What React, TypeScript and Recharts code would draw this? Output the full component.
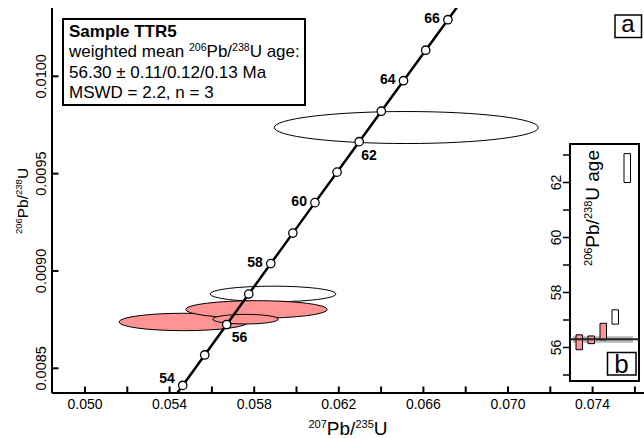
import React from 'react';
import {
  ComposedChart,
  Line,
  Scatter,
  XAxis,
  YAxis,
  ReferenceArea,
  ReferenceLine,
  Bar,
  Cell,
} from 'recharts';

const FONT = '"Liberation Sans", Arial, Helvetica, sans-serif';
const PINK = '#FF9494';

// ---- Concordia curve (age in Ma, 207Pb/235U, 206Pb/238U) ----
const concordiaAges = [53, 54, 55, 56, 57, 58, 59, 60, 61, 62, 63, 64, 65, 66, 67];
const concordiaX = [
  0.0535834, 0.0546215, 0.0556606, 0.0567007, 0.057742, 0.0587842, 0.0598275, 0.0608718,
  0.0619171, 0.0629634, 0.0640108, 0.0650592, 0.0661086, 0.0671591, 0.0682106,
];
const concordiaY = [
  0.0082555, 0.0084119, 0.0085684, 0.0087248, 0.0088813, 0.0090379, 0.0091944, 0.009351,
  0.0095076, 0.0096642, 0.0098208, 0.0099774, 0.0101341, 0.0102909, 0.0104476,
];
const markerAges = [54, 55, 56, 57, 58, 59, 60, 61, 62, 63, 64, 65, 66];

// ---- Error ellipses ----
const ellipseCx = [0.065192, 0.058889, 0.054667, 0.058109, 0.057589];
const ellipseCy = [0.0097369, 0.0088818, 0.0087379, 0.0088022, 0.0087523];
const ellipseRx = [0.006241, 0.002979, 0.003059, 0.003348, 0.001551];
const ellipseRy = [0.0000822, 0.0000401, 0.0000447, 0.0000452, 0.0000247];
const ellipseIncluded = [false, false, true, true, true];

// ---- Axes ----
const X_DOMAIN: [number, number] = [0.04844, 0.07643];
const Y_DOMAIN: [number, number] = [0.008373, 0.010351];
const xTicks = [0.05, 0.052, 0.054, 0.056, 0.058, 0.06, 0.062, 0.064, 0.066, 0.068, 0.07, 0.072, 0.074, 0.076];
const xTickLabels = ['0.050', '0.054', '0.058', '0.062', '0.066', '0.070', '0.074'];
const yTicks = [0.0085, 0.009, 0.0095, 0.01];
const yTickLabels = ['0.0085', '0.0090', '0.0095', '0.0100'];

// ---- Inset (b): 206Pb/238U ages ----
const insetNames = ['1', '2', '3', '4', '5'];
const insetLow = [55.92, 56.14, 56.28, 56.85, 62.0];
const insetHigh = [56.46, 56.42, 56.88, 57.37, 63.05];
const insetIncluded = [true, true, true, false, false];
const insetDomain: [number, number] = [54.8, 63.4];
const insetTicks = [55, 56, 57, 58, 59, 60, 61, 62, 63];
const insetTickLabels = [56, 58, 60, 62];

// ---- Weighted mean ----
const sampleName = 'Sample TTR5';
const meanAge = 56.3;
const meanErrors = [0.11, 0.12, 0.13];
const meanBand = [56.17, 56.41];
const mswd = 2.2;
const nUsed = 3;

const concordiaData = concordiaAges.map((a, i) => ({ age: a, x: concordiaX[i], y: concordiaY[i] }));
const markerData = markerAges.map((a) => {
  const i = concordiaAges.indexOf(a);
  return { age: a, x: concordiaX[i], y: concordiaY[i] };
});
const insetData = insetNames.map((n, i) => ({ name: n, range: [insetLow[i], insetHigh[i]], inc: insetIncluded[i] }));

const labelPlacement: Record<number, [number, number, 'start' | 'end']> = {
  54: [-8, -2, 'end'],
  56: [5, 17, 'start'],
  62: [2, 18, 'start'],
};

const XTick = (props: any) => {
  const { x, y, payload } = props;
  const label = xTickLabels.find((l) => Math.abs(parseFloat(l) - payload.value) < 1e-9);
  return (
    <g>
      <line x1={x} x2={x} y1={y} y2={y - 6.5} stroke="#000" strokeWidth={2} />
      {label && (
        <text x={x} y={y + 16.3} textAnchor="middle" fontSize={14} fill="#000" fontFamily={FONT}>
          {label}
        </text>
      )}
    </g>
  );
};

const YTick = (props: any) => {
  const { x, y, payload } = props;
  const label = yTickLabels.find((l) => Math.abs(parseFloat(l) - payload.value) < 1e-9);
  const bx = x - 5.5;
  return (
    <g>
      <line x1={x} x2={x + 6.5} y1={y} y2={y} stroke="#000" strokeWidth={2} />
      {label && (
        <text x={bx} y={y} transform={`rotate(-90 ${bx} ${y})`} textAnchor="middle" fontSize={14.5} fill="#000" fontFamily={FONT}>
          {label}
        </text>
      )}
    </g>
  );
};

const InsetTick = (props: any) => {
  const { x, y, payload } = props;
  const show = insetTickLabels.includes(payload.value);
  const bx = x - 9.3;
  return (
    <g>
      <line x1={x - 7} x2={x} y1={y} y2={y} stroke="#000" strokeWidth={1.5} />
      {show && (
        <text x={bx} y={y} transform={`rotate(-90 ${bx} ${y})`} textAnchor="middle" fontSize={14} fill="#000" fontFamily={FONT}>
          {payload.value}
        </text>
      )}
    </g>
  );
};

const makeEllipse = (fill: string) => (props: any) => {
  const { x, y, width, height } = props;
  return (
    <ellipse
      cx={x + width / 2}
      cy={y + height / 2}
      rx={Math.abs(width) / 2}
      ry={Math.abs(height) / 2}
      fill={fill}
      stroke="#000"
      strokeWidth={1}
    />
  );
};

const MarkerShape = (props: any) => {
  const { cx, cy, payload } = props;
  const age = payload.age;
  const showLabel = age % 2 === 0;
  const [dx, dy, anchor] = labelPlacement[age] || [-8, 3, 'end'];
  return (
    <g>
      <circle cx={cx} cy={cy} r={4.2} fill="#fff" stroke="#000" strokeWidth={1.3} />
      {showLabel && (
        <text x={cx + dx} y={cy + dy} textAnchor={anchor} fontSize={14} fontWeight="bold" fill="#000" fontFamily={FONT}>
          {age}
        </text>
      )}
    </g>
  );
};

const supStyle: React.CSSProperties = { fontSize: 10.5, position: 'relative', top: -6 };

export default function App() {
  return (
    <div style={{ position: 'absolute', left: 0, top: 0, width: 644, height: 438, background: '#fff', fontFamily: FONT }}>
      <div style={{ position: 'absolute', left: 0, top: 0 }}>
        <ComposedChart width={644} height={438} margin={{ top: 8, right: 0, bottom: 0, left: 0 }}>
          <XAxis
            dataKey="x"
            type="number"
            domain={X_DOMAIN}
            allowDataOverflow
            ticks={xTicks}
            interval={0}
            tick={(p: any) => <XTick {...p} />}
            tickLine={false}
            tickSize={0}
            tickMargin={0}
            axisLine={{ stroke: '#000', strokeWidth: 2 }}
            height={45}
          />
          <XAxis
            xAxisId="top"
            orientation="top"
            type="number"
            domain={X_DOMAIN}
            allowDataOverflow
            height={0}
            tick={false}
            tickLine={false}
            axisLine={{ stroke: '#000', strokeWidth: 2 }}
          />
          <YAxis
            dataKey="y"
            type="number"
            domain={Y_DOMAIN}
            allowDataOverflow
            ticks={yTicks}
            interval={0}
            tick={(p: any) => <YTick {...p} />}
            tickLine={false}
            tickSize={0}
            tickMargin={0}
            axisLine={{ stroke: '#000', strokeWidth: 2 }}
            width={52}
          />
          {ellipseCx.map((cx, i) => (
            <ReferenceArea
              key={`e${i}`}
              x1={cx - ellipseRx[i]}
              x2={cx + ellipseRx[i]}
              y1={ellipseCy[i] - ellipseRy[i]}
              y2={ellipseCy[i] + ellipseRy[i]}
              ifOverflow="visible"
              shape={makeEllipse(ellipseIncluded[i] ? PINK : '#fff')}
            />
          ))}
          <Line
            data={concordiaData}
            dataKey="y"
            type="linear"
            stroke="#000"
            strokeWidth={2.5}
            dot={false}
            activeDot={false}
            isAnimationActive={false}
          />
          <Scatter data={markerData} dataKey="y" shape={(p: any) => <MarkerShape {...p} />} isAnimationActive={false} />
        </ComposedChart>
      </div>

      {/* annotation box */}
      <div
        style={{
          position: 'absolute',
          left: 62,
          top: 18,
          width: 244,
          height: 88,
          boxSizing: 'border-box',
          border: '2px solid #000',
          background: '#fff',
          padding: '1.5px 0 0 5px',
          fontSize: 17,
          lineHeight: '20px',
          color: '#000',
          whiteSpace: 'nowrap',
        }}
      >
        <div style={{ fontWeight: 'bold' }}>{sampleName}</div>
        <div>
          weighted mean <span style={supStyle}>206</span>Pb/<span style={supStyle}>238</span>U age:
        </div>
        <div>
          {meanAge.toFixed(2)} ± {meanErrors.map((e) => e.toFixed(2)).join('/')} Ma
        </div>
        <div>
          MSWD = {mswd}, n = {nUsed}
        </div>
      </div>

      {/* inset frame */}
      <div
        style={{
          position: 'absolute',
          left: 569,
          top: 143,
          width: 71,
          height: 238.5,
          boxSizing: 'border-box',
          border: '2px solid #000',
          background: '#fff',
        }}
      />
      <div style={{ position: 'absolute', left: 530, top: 134 }}>
        <ComposedChart width={114} height={256} data={insetData} margin={{ top: 10, right: 5, bottom: 9.5, left: 0 }}>
          <XAxis dataKey="name" type="category" hide padding={{ left: 3, right: 6 }} />
          <YAxis
            type="number"
            domain={insetDomain}
            allowDataOverflow
            ticks={insetTicks}
            interval={0}
            tick={(p: any) => <InsetTick {...p} />}
            tickLine={false}
            tickSize={0}
            tickMargin={0}
            axisLine={false}
            width={40}
          />
          <ReferenceArea y1={meanBand[0]} y2={meanBand[1]} fill="#b4b4b4" fillOpacity={1} stroke="none" ifOverflow="visible" />
          <ReferenceLine y={meanAge} stroke="#222" strokeWidth={2} />
          <Bar dataKey="range" barSize={6.5} isAnimationActive={false} stroke="#000" strokeWidth={1}>
            {insetData.map((d, i) => (
              <Cell key={`c${i}`} fill={d.inc ? PINK : '#fff'} />
            ))}
          </Bar>
        </ComposedChart>
      </div>

      {/* text overlay */}
      <svg width={644} height={438} style={{ position: 'absolute', left: 0, top: 0, pointerEvents: 'none' }}>
        <g fontFamily={FONT} fill="#000">
          <text x={348} y={435} textAnchor="middle" fontSize={19}>
            <tspan fontSize={11} dy={-7}>207</tspan>
            <tspan dy={7}>Pb/</tspan>
            <tspan fontSize={11} dy={-7}>235</tspan>
            <tspan dy={7}>U</tspan>
          </text>
          <text x={28} y={201} transform="rotate(-90 28 201)" textAnchor="middle" fontSize={15.5}>
            <tspan fontSize={9.5} dy={-6}>206</tspan>
            <tspan dy={6}>Pb/</tspan>
            <tspan fontSize={9.5} dy={-6}>238</tspan>
            <tspan dy={6}>U</tspan>
          </text>
          <text x={599} y={208} transform="rotate(-90 599 208)" textAnchor="middle" fontSize={19}>
            <tspan fontSize={11} dy={-7}>206</tspan>
            <tspan dy={7}>Pb/</tspan>
            <tspan fontSize={11} dy={-7}>238</tspan>
            <tspan dy={7}>U age</tspan>
          </text>
          <rect x={615} y={15} width={26.5} height={22.5} fill="#fff" stroke="#000" strokeWidth={1.5} />
          <text x={628} y={32} textAnchor="middle" fontSize={24}>a</text>
          <rect x={607.5} y={352.5} width={28.5} height={22.5} fill="#fff" stroke="#000" strokeWidth={1.5} />
          <text x={621.5} y={373} textAnchor="middle" fontSize={26}>b</text>
        </g>
      </svg>
    </div>
  );
}
